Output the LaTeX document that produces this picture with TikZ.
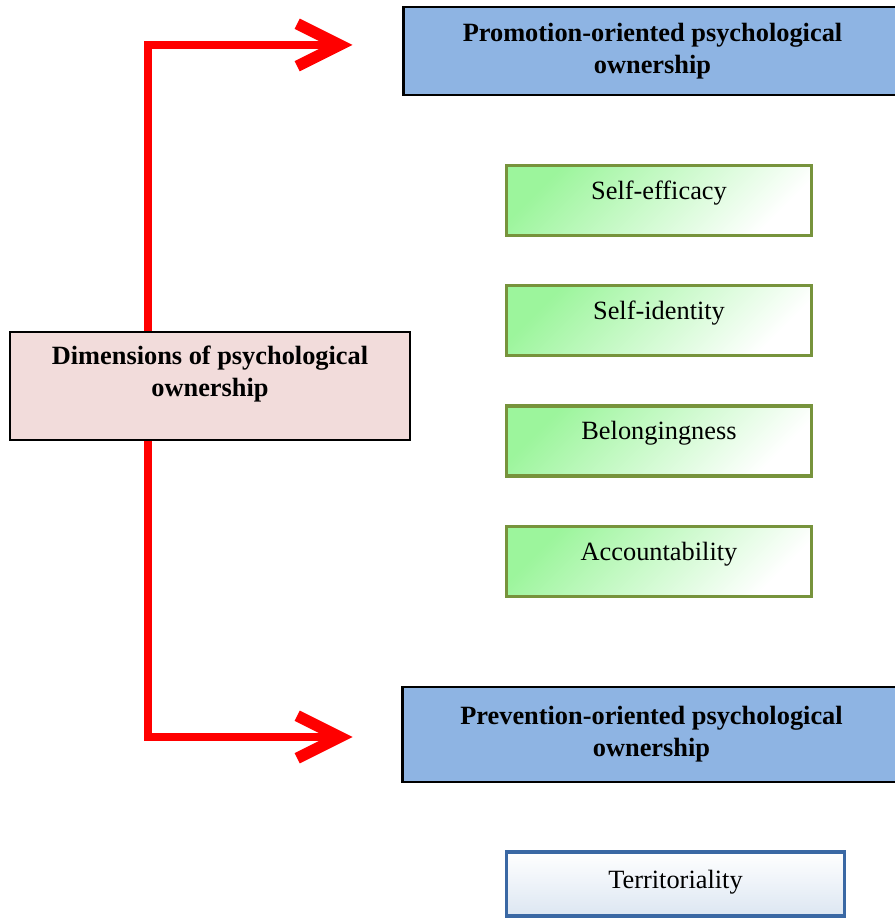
\documentclass[tikz,border=0pt]{standalone}
\usepackage{fontspec}
\setmainfont{Liberation Serif}
\usepackage{xcolor}
\usepackage{tikz}
\usetikzlibrary{arrows.meta}

\definecolor{headblue}{HTML}{8EB4E3}
\definecolor{rootpink}{HTML}{F2DCDB}
\definecolor{leafgreen}{HTML}{9CF59C}
\definecolor{leafedge}{HTML}{77933C}
\definecolor{tailblue}{HTML}{DCE6F2}
\definecolor{tailedge}{HTML}{3A68A4}

\begin{document}
\begin{tikzpicture}[font=\fontsize{15}{18.2}\selectfont,
                    headbox/.style={draw=black, line width=1.2pt, fill=headblue,
                                    minimum width=9.96cm, minimum height=1.75cm,
                                    align=center, font=\fontsize{15}{18.2}\selectfont\bfseries},
                    rootbox/.style={draw=black, line width=0.9pt, fill=rootpink,
                                    minimum width=8cm, minimum height=2.16cm, text depth=0.6cm,
                                    align=center, font=\fontsize{15}{18.2}\selectfont\bfseries},
                    leafbox/.style={draw=leafedge, line width=2.2pt,
                                    top color=leafgreen, bottom color=white,
                                    shading angle=45,
                                    minimum width=6.1cm, minimum height=1.4cm, text depth=0.42cm},
                    tailbox/.style={draw=tailedge, line width=2.2pt,
                                    top color=white, bottom color=tailblue,
                                    minimum width=6.76cm, minimum height=1.28cm, text depth=0.2cm},
                    redarrow/.style={draw=red, line width=4.5pt, line join=miter,
                                     -{Straight Barb[length=0.85cm,width=0.85cm,line width=6.5pt]}}
                   ]
    \useasboundingbox (0,0) rectangle (17.9,18.36);

    \node[headbox] (promo) at (13.05,17.34) {Promotion-oriented psychological\\ownership};
    \node[leafbox] (efficacy) at (13.18,14.35) {Self-efficacy};
    \node[leafbox] (identity) at (13.18,11.95) {Self-identity};
    \node[leafbox] (belong) at (13.18,9.54) {Belongingness};
    \node[leafbox] (account) at (13.18,7.13) {Accountability};
    \node[headbox, minimum height=1.9cm] (prevent) at (13.03,3.67) {Prevention-oriented psychological\\ownership};
    \node[tailbox] (territory) at (13.51,0.68) {Territoriality};

    \node[rootbox] (dims) at (4.2,10.64) {Dimensions of psychological\\ownership};

    % elbow arrows out of the root box
    \coordinate (upturn) at (2.96,17.46);
    \coordinate (uptip) at (7.05,17.46);
    \coordinate (downturn) at (2.96,3.62);
    \coordinate (downtip) at (7.05,3.62);
    \draw[redarrow] (dims.north -| upturn) |- (uptip);
    \draw[redarrow] (dims.south -| downturn) |- (downtip);
\end{tikzpicture}
\end{document}
